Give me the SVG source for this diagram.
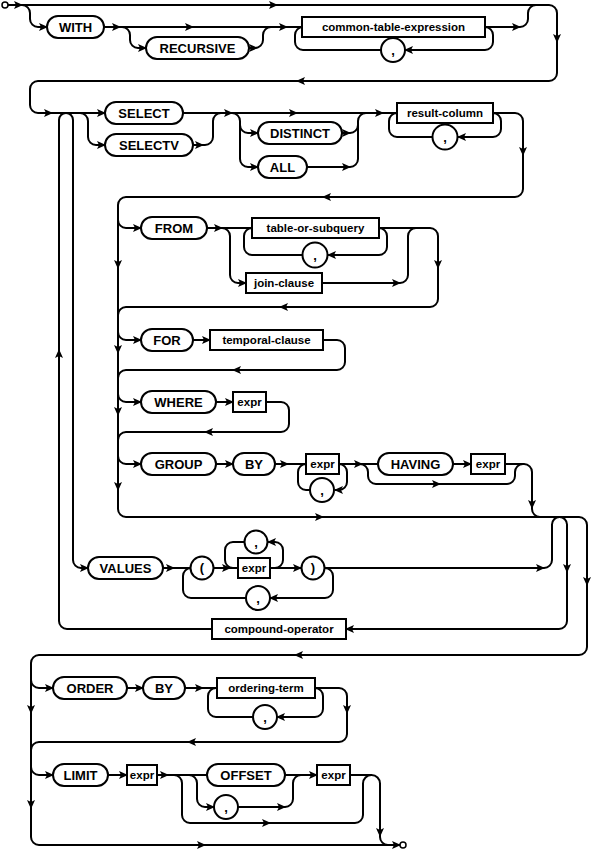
<svg xmlns="http://www.w3.org/2000/svg" xmlns:xlink="http://www.w3.org/1999/xlink" width="596" height="852" viewBox="0 0 596 852">
<style>
.l{fill:none;stroke:#000;stroke-width:2}
.s{fill:#fff;stroke:#000;stroke-width:2}
.t{fill:#fff;stroke:#000;stroke-width:1.5}
.k{font-family:"Liberation Sans",Arial,sans-serif;font-weight:bold;font-size:13px;text-anchor:middle;dominant-baseline:central}
.n{font-family:"Liberation Sans",Arial,sans-serif;font-weight:bold;font-size:11.5px;text-anchor:middle;dominant-baseline:central}
</style>
<defs>
<path id="a" d="M1,0 L-8,-4 L-6,0 L-8,4 Z" fill="#000"/>
</defs>
<rect width="596" height="852" fill="#fff"/>
<g id="connectors">
<path class="l" d="M8,5 H549 A8,8 0 0 1 557,13 V73 A8,8 0 0 1 549,81 H38 A8,8 0 0 0 30,89 V105 A8,8 0 0 0 38,113 H105"/>
<path class="l" d="M22,5 A8,8 0 0 1 30,13 V19 A8,8 0 0 0 38,27 H47"/>
<path class="l" d="M104,27 H302"/>
<path class="l" d="M122,27 A8,8 0 0 1 130,35 V40 A8,8 0 0 0 138,48 H146"/>
<path class="l" d="M249,48 H255 A8,8 0 0 0 263,40 V35 A8,8 0 0 1 271,27"/>
<path class="l" d="M485,27 A8,8 0 0 1 493,35 V42 A8,8 0 0 1 485,50 H405"/>
<path class="l" d="M381,50 H303 A8,8 0 0 1 295,42 V35 A8,8 0 0 1 303,27"/>
<path class="l" d="M485,27 H520 A8,8 0 0 0 528,19 V13 A8,8 0 0 1 536,5"/>
<path class="l" d="M212,629 H67 A8,8 0 0 1 59,621 V120 A7,7 0 0 1 66,113"/>
<path class="l" d="M66,113 A7,7 0 0 1 73,120 V560 A8,8 0 0 0 81,568 H88"/>
<path class="l" d="M80,113 A8,8 0 0 1 88,121 V137 A8,8 0 0 0 96,145 H105"/>
<path class="l" d="M183,113 H397"/>
<path class="l" d="M193,145 H205 A8,8 0 0 0 213,137 V121 A8,8 0 0 1 221,113"/>
<path class="l" d="M232,113 A8,8 0 0 1 240,121 V159 A8,8 0 0 0 248,167 H258 M240,125 A8,8 0 0 0 248,133 H258"/>
<path class="l" d="M342,133 H350 A8,8 0 0 0 358,125"/>
<path class="l" d="M307,167 H350 A8,8 0 0 0 358,159 V121 A8,8 0 0 1 366,113"/>
<path class="l" d="M493,113 A8,8 0 0 1 501,121 V129 A8,8 0 0 1 493,137 H458"/>
<path class="l" d="M432,137 H397 A8,8 0 0 1 389,129 V121 A8,8 0 0 1 397,113"/>
<path class="l" d="M493,113 H515 A8,8 0 0 1 523,121 V189 A8,8 0 0 1 515,197 H126 A8,8 0 0 0 118,205 V509 A8,8 0 0 0 126,517 H579 A8,8 0 0 1 587,525 V647 A8,8 0 0 1 579,655 H39 A8,8 0 0 0 31,663 V837 A8,8 0 0 0 39,845 H400"/>
<path class="l" d="M118,220 A8,8 0 0 0 126,228 H141"/>
<path class="l" d="M207,228 H252"/>
<path class="l" d="M222,228 A8,8 0 0 1 230,236 V275 A8,8 0 0 0 238,283 H246"/>
<path class="l" d="M379,228 A8,8 0 0 1 387,236 V247 A8,8 0 0 1 379,255 H328"/>
<path class="l" d="M302,255 H252 A8,8 0 0 1 244,247 V236 A8,8 0 0 1 252,228"/>
<path class="l" d="M322,283 H400 A8,8 0 0 0 408,275 V236 A8,8 0 0 1 416,228"/>
<path class="l" d="M379,228 H430 A8,8 0 0 1 438,236 V299 A8,8 0 0 1 430,307 H126 A8,8 0 0 0 118,315"/>
<path class="l" d="M118,332 A8,8 0 0 0 126,340 H141 M193,340 H210"/>
<path class="l" d="M323,340 H337 A8,8 0 0 1 345,348 V362 A8,8 0 0 1 337,370 H126 A8,8 0 0 0 118,378"/>
<path class="l" d="M118,394 A8,8 0 0 0 126,402 H141 M216,402 H233"/>
<path class="l" d="M266,402 H281 A8,8 0 0 1 289,410 V424 A8,8 0 0 1 281,432 H126 A8,8 0 0 0 118,440"/>
<path class="l" d="M118,456 A8,8 0 0 0 126,464 H141 M216,464 H233 M275,464 H306"/>
<path class="l" d="M339,464 A8,8 0 0 1 347,472 V482 A8,8 0 0 1 339,490 H335"/>
<path class="l" d="M310,490 H306 A8,8 0 0 1 298,482 V472 A8,8 0 0 1 306,464"/>
<path class="l" d="M339,464 H378"/>
<path class="l" d="M360,464 A8,8 0 0 1 368,472 V476 A8,8 0 0 0 376,484 H507 A8,8 0 0 0 515,476 V472 A8,8 0 0 1 523,464"/>
<path class="l" d="M453,464 H471"/>
<path class="l" d="M505,464 H524 A8,8 0 0 1 532,472 V509 A8,8 0 0 0 540,517"/>
<path class="l" d="M163,568 H191"/>
<path class="l" d="M325,568 A8,8 0 0 1 333,576 V590 A8,8 0 0 1 325,598 H270"/>
<path class="l" d="M246,598 H191 A8,8 0 0 1 183,590 V576 A8,8 0 0 1 191,568"/>
<path class="l" d="M213,568 H238"/>
<path class="l" d="M270,568 H275 A8,8 0 0 0 283,560 V550 A8,8 0 0 0 275,542 H268"/>
<path class="l" d="M244,542 H233 A8,8 0 0 0 225,550 V560 A8,8 0 0 0 233,568"/>
<path class="l" d="M270,568 H301"/>
<path class="l" d="M325,568 H544 A8,8 0 0 0 552,560 V524.5 A7.5,7.5 0 0 1 559.5,517"/>
<path class="l" d="M559.5,517 A7.5,7.5 0 0 1 567,524.5 V621 A8,8 0 0 1 559,629 H346"/>
<path class="l" d="M31,680 A8,8 0 0 0 39,688 H53 M127,688 H143 M185,688 H217"/>
<path class="l" d="M315,688 A8,8 0 0 1 323,696 V709 A8,8 0 0 1 315,717 H277"/>
<path class="l" d="M253,717 H216 A8,8 0 0 1 208,709 V696 A8,8 0 0 1 216,688"/>
<path class="l" d="M315,688 H339 A8,8 0 0 1 347,696 V734 A8,8 0 0 1 339,742 H39 A8,8 0 0 0 31,750"/>
<path class="l" d="M31,767 A8,8 0 0 0 39,775 H53 M108,775 H127 M157,775 H207"/>
<path class="l" d="M174,775 A8,8 0 0 1 182,783 V815 A8,8 0 0 0 190,823 H355 A8,8 0 0 0 363,815 V783.5 A8.5,8.5 0 0 1 371.5,775"/>
<path class="l" d="M189,775 A8,8 0 0 1 197,783 V799 A8,8 0 0 0 205,807 H214"/>
<path class="l" d="M238,807 H285 A8,8 0 0 0 293,799 V783 A8,8 0 0 1 301,775"/>
<path class="l" d="M285,775 H317"/>
<path class="l" d="M350,775 H371.5 A8.5,8.5 0 0 1 380,783.5 V837 A8,8 0 0 0 388,845 H400"/>
<g id="arrows">
<use xlink:href="#a" transform="translate(22,5)"/>
<use xlink:href="#a" transform="translate(277,5)"/>
<use xlink:href="#a" transform="translate(47,27)"/>
<use xlink:href="#a" transform="translate(120,27)"/>
<use xlink:href="#a" transform="translate(193,27)"/>
<use xlink:href="#a" transform="translate(146,48)"/>
<use xlink:href="#a" transform="translate(257,48)"/>
<use xlink:href="#a" transform="translate(287,27)"/>
<use xlink:href="#a" transform="translate(405,50) rotate(180)"/>
<use xlink:href="#a" transform="translate(520,27)"/>
<use xlink:href="#a" transform="translate(557,42) rotate(90)"/>
<use xlink:href="#a" transform="translate(297,81) rotate(180)"/>
<use xlink:href="#a" transform="translate(52,113)"/>
<use xlink:href="#a" transform="translate(105,113)"/>
<use xlink:href="#a" transform="translate(105,145)"/>
<use xlink:href="#a" transform="translate(203,145)"/>
<use xlink:href="#a" transform="translate(232,113)"/>
<use xlink:href="#a" transform="translate(258,133)"/>
<use xlink:href="#a" transform="translate(258,167)"/>
<use xlink:href="#a" transform="translate(297,113)"/>
<use xlink:href="#a" transform="translate(350,133)"/>
<use xlink:href="#a" transform="translate(350,167)"/>
<use xlink:href="#a" transform="translate(383,113)"/>
<use xlink:href="#a" transform="translate(458,137) rotate(180)"/>
<use xlink:href="#a" transform="translate(523,155) rotate(90)"/>
<use xlink:href="#a" transform="translate(323,197) rotate(180)"/>
<use xlink:href="#a" transform="translate(141,228)"/>
<use xlink:href="#a" transform="translate(222,228)"/>
<use xlink:href="#a" transform="translate(246,283)"/>
<use xlink:href="#a" transform="translate(328,255) rotate(180)"/>
<use xlink:href="#a" transform="translate(400,283)"/>
<use xlink:href="#a" transform="translate(438,268) rotate(90)"/>
<use xlink:href="#a" transform="translate(118,268) rotate(90)"/>
<use xlink:href="#a" transform="translate(280,307) rotate(180)"/>
<use xlink:href="#a" transform="translate(141,340)"/>
<use xlink:href="#a" transform="translate(210,340)"/>
<use xlink:href="#a" transform="translate(233,370) rotate(180)"/>
<use xlink:href="#a" transform="translate(118,353) rotate(90)"/>
<use xlink:href="#a" transform="translate(141,402)"/>
<use xlink:href="#a" transform="translate(233,402)"/>
<use xlink:href="#a" transform="translate(205,432) rotate(180)"/>
<use xlink:href="#a" transform="translate(118,415) rotate(90)"/>
<use xlink:href="#a" transform="translate(141,464)"/>
<use xlink:href="#a" transform="translate(233,464)"/>
<use xlink:href="#a" transform="translate(288,464)"/>
<use xlink:href="#a" transform="translate(335,490) rotate(180)"/>
<use xlink:href="#a" transform="translate(362,464)"/>
<use xlink:href="#a" transform="translate(471,464)"/>
<use xlink:href="#a" transform="translate(440,484)"/>
<use xlink:href="#a" transform="translate(532,508) rotate(90)"/>
<use xlink:href="#a" transform="translate(118,490) rotate(90)"/>
<use xlink:href="#a" transform="translate(323,517)"/>
<use xlink:href="#a" transform="translate(59,350) rotate(-90)"/>
<use xlink:href="#a" transform="translate(88,568)"/>
<use xlink:href="#a" transform="translate(174,568)"/>
<use xlink:href="#a" transform="translate(230,568)"/>
<use xlink:href="#a" transform="translate(268,542) rotate(180)"/>
<use xlink:href="#a" transform="translate(301,568)"/>
<use xlink:href="#a" transform="translate(270,598) rotate(180)"/>
<use xlink:href="#a" transform="translate(544,568)"/>
<use xlink:href="#a" transform="translate(567,572) rotate(90)"/>
<use xlink:href="#a" transform="translate(587,585) rotate(90)"/>
<use xlink:href="#a" transform="translate(346,629) rotate(180)"/>
<use xlink:href="#a" transform="translate(295,655) rotate(180)"/>
<use xlink:href="#a" transform="translate(53,688)"/>
<use xlink:href="#a" transform="translate(143,688)"/>
<use xlink:href="#a" transform="translate(203,688)"/>
<use xlink:href="#a" transform="translate(277,717) rotate(180)"/>
<use xlink:href="#a" transform="translate(347,713) rotate(90)"/>
<use xlink:href="#a" transform="translate(188,742) rotate(180)"/>
<use xlink:href="#a" transform="translate(31,713) rotate(90)"/>
<use xlink:href="#a" transform="translate(53,775)"/>
<use xlink:href="#a" transform="translate(127,775)"/>
<use xlink:href="#a" transform="translate(168,775)"/>
<use xlink:href="#a" transform="translate(214,807)"/>
<use xlink:href="#a" transform="translate(285,807)"/>
<use xlink:href="#a" transform="translate(270,823)"/>
<use xlink:href="#a" transform="translate(317,775)"/>
<use xlink:href="#a" transform="translate(31,808) rotate(90)"/>
<use xlink:href="#a" transform="translate(205,845)"/>
<use xlink:href="#a" transform="translate(380,836) rotate(90)"/>
<use xlink:href="#a" transform="translate(400,845)"/>
</g>
</g>
<g id="start"><circle class="t" cx="5" cy="5" r="3"/></g>
<g id="end"><circle class="t" cx="403" cy="845" r="3"/></g>
<g id="n-with"><rect class="s" x="47" y="16" width="57" height="22" rx="11"/><text class="k" x="75.5" y="27">WITH</text></g>
<g id="n-recursive"><rect class="s" x="146" y="37" width="103" height="22" rx="11"/><text class="k" x="197.5" y="48">RECURSIVE</text></g>
<g id="n-cte"><rect class="s" x="302" y="17" width="183" height="20"/><text class="n" x="393.5" y="27">common-table-expression</text></g>
<g id="n-cte-comma"><circle class="s" cx="393" cy="50" r="12"/><text class="k" x="393" y="50">,</text></g>
<g id="n-select"><rect class="s" x="105" y="102" width="78" height="22" rx="11"/><text class="k" x="144" y="113">SELECT</text></g>
<g id="n-selectv"><rect class="s" x="105" y="134" width="88" height="22" rx="11"/><text class="k" x="149" y="145">SELECTV</text></g>
<g id="n-distinct"><rect class="s" x="258" y="122" width="84" height="22" rx="11"/><text class="k" x="300" y="133">DISTINCT</text></g>
<g id="n-all"><rect class="s" x="258" y="156" width="49" height="22" rx="11"/><text class="k" x="282.5" y="167">ALL</text></g>
<g id="n-result"><rect class="s" x="397" y="103" width="96" height="20"/><text class="n" x="445" y="113">result-column</text></g>
<g id="n-result-comma"><circle class="s" cx="445" cy="137" r="12.5"/><text class="k" x="445" y="137">,</text></g>
<g id="n-from"><rect class="s" x="141" y="217" width="66" height="22" rx="11"/><text class="k" x="174" y="228">FROM</text></g>
<g id="n-table"><rect class="s" x="252" y="218" width="127" height="20"/><text class="n" x="315.5" y="228">table-or-subquery</text></g>
<g id="n-table-comma"><circle class="s" cx="315" cy="255" r="12.5"/><text class="k" x="315" y="255">,</text></g>
<g id="n-join"><rect class="s" x="246" y="273" width="76" height="20"/><text class="n" x="284" y="283">join-clause</text></g>
<g id="n-for"><rect class="s" x="141" y="329" width="52" height="22" rx="11"/><text class="k" x="167" y="340">FOR</text></g>
<g id="n-temporal"><rect class="s" x="210" y="330" width="113" height="20"/><text class="n" x="266.5" y="340">temporal-clause</text></g>
<g id="n-where"><rect class="s" x="141" y="391" width="75" height="22" rx="11"/><text class="k" x="178.5" y="402">WHERE</text></g>
<g id="n-where-expr"><rect class="s" x="233" y="392" width="33" height="20"/><text class="n" x="249.5" y="402">expr</text></g>
<g id="n-group"><rect class="s" x="141" y="453" width="75" height="22" rx="11"/><text class="k" x="178.5" y="464">GROUP</text></g>
<g id="n-group-by"><rect class="s" x="233" y="453" width="42" height="22" rx="11"/><text class="k" x="254" y="464">BY</text></g>
<g id="n-group-expr"><rect class="s" x="306" y="454" width="33" height="20"/><text class="n" x="322.5" y="464">expr</text></g>
<g id="n-group-comma"><circle class="s" cx="322" cy="490" r="12"/><text class="k" x="322" y="490">,</text></g>
<g id="n-having"><rect class="s" x="378" y="453" width="75" height="22" rx="11"/><text class="k" x="415.5" y="464">HAVING</text></g>
<g id="n-having-expr"><rect class="s" x="471" y="454" width="34" height="20"/><text class="n" x="488" y="464">expr</text></g>
<g id="n-values"><rect class="s" x="88" y="557" width="75" height="22" rx="11"/><text class="k" x="125.5" y="568">VALUES</text></g>
<g id="n-lparen"><circle class="s" cx="202" cy="568" r="11.5"/><text class="k" x="202" y="567">(</text></g>
<g id="n-values-expr"><rect class="s" x="238" y="558" width="32" height="20"/><text class="n" x="254" y="568">expr</text></g>
<g id="n-values-comma1"><circle class="s" cx="256" cy="542" r="11.5"/><text class="k" x="256" y="542">,</text></g>
<g id="n-rparen"><circle class="s" cx="313" cy="568" r="11.5"/><text class="k" x="313" y="567">)</text></g>
<g id="n-values-comma2"><circle class="s" cx="258" cy="598" r="12"/><text class="k" x="258" y="598">,</text></g>
<g id="n-compound"><rect class="s" x="212" y="619" width="134" height="20"/><text class="n" x="279" y="629">compound-operator</text></g>
<g id="n-order"><rect class="s" x="53" y="677" width="74" height="22" rx="11"/><text class="k" x="90" y="688">ORDER</text></g>
<g id="n-order-by"><rect class="s" x="143" y="677" width="42" height="22" rx="11"/><text class="k" x="164" y="688">BY</text></g>
<g id="n-ordering"><rect class="s" x="217" y="678" width="98" height="20"/><text class="n" x="266" y="688">ordering-term</text></g>
<g id="n-ordering-comma"><circle class="s" cx="265" cy="717" r="12"/><text class="k" x="265" y="717">,</text></g>
<g id="n-limit"><rect class="s" x="53" y="764" width="55" height="22" rx="11"/><text class="k" x="80.5" y="775">LIMIT</text></g>
<g id="n-limit-expr"><rect class="s" x="127" y="765" width="30" height="20"/><text class="n" x="142" y="775">expr</text></g>
<g id="n-offset"><rect class="s" x="207" y="764" width="78" height="22" rx="11"/><text class="k" x="246" y="775">OFFSET</text></g>
<g id="n-limit-comma"><circle class="s" cx="226" cy="807" r="12"/><text class="k" x="226" y="807">,</text></g>
<g id="n-offset-expr"><rect class="s" x="317" y="765" width="33" height="20"/><text class="n" x="333.5" y="775">expr</text></g>
</svg>
